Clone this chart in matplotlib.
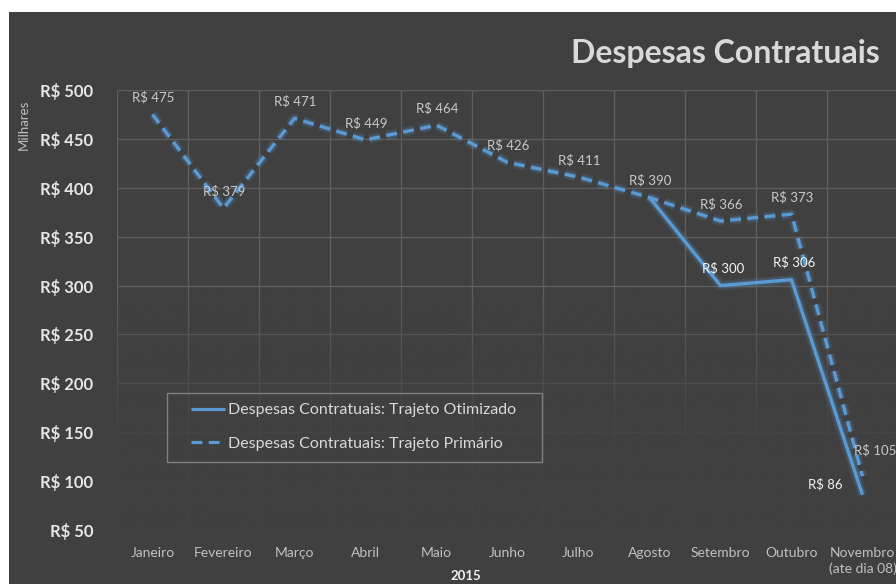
import numpy as np
import matplotlib
matplotlib.use("Agg")
import matplotlib.pyplot as plt
import matplotlib.patheffects as pe
from matplotlib.patches import Rectangle

# ---- data ----
months = ["Janeiro", "Fevereiro", "Março", "Abril", "Maio", "Junho", "Julho",
          "Agosto", "Setembro", "Outubro", "Novembro\n(ate dia 08)"]
primario = [475, 379, 471, 449, 464, 426, 411, 390, 366, 373, 105]
otimizado = [np.nan, np.nan, np.nan, np.nan, np.nan, np.nan, np.nan, 390, 300, 306, 86]
yticks = [50, 100, 150, 200, 250, 300, 350, 400, 450, 500]
ytick_labels = ["R$ 50", "R$ 100", "R$ 150", "R$ 200", "R$ 250", "R$ 300",
                "R$ 350", "R$ 400", "R$ 450", "R$ 500"]
title = "Despesas Contratuais"
name_opt = "Despesas Contratuais: Trajeto Otimizado"
name_pri = "Despesas Contratuais: Trajeto Primário"

BG = "#404040"
BLUE = "#5b9bd5"
plt.rcParams["font.family"] = ["Lato", "DejaVu Sans"]

W, H = 896, 584
fig = plt.figure(figsize=(W / 100, H / 100), dpi=100, facecolor="white")
fig.patches.append(Rectangle((9 / W, 0), 1, (H - 12) / H, transform=fig.transFigure,
                             facecolor=BG, edgecolor="none", zorder=-10))

left, right, top, bottom = 117, 898, 90, 530
ax = fig.add_axes([left / W, 1 - bottom / H, (right - left) / W, (bottom - top) / H])
ax.set_facecolor("none")
x = np.arange(len(months))

# grid
ax.set_xticks(x - 0.5, minor=True)
ax.grid(True, which="minor", axis="x", color="#5e5e5e", lw=1, zorder=0.5)
ax.set_yticks(yticks)
ax.grid(True, which="major", axis="y", color="#5e5e5e", lw=1, zorder=0.5)
ax.set_axisbelow(True)
for s in ax.spines.values():
    s.set_visible(False)

# fade-out overlay for gridlines towards the bottom
n = 200
rgba = np.zeros((n, 1, 4))
rgba[..., :3] = matplotlib.colors.to_rgb(BG)
frac_from_top = np.linspace(0, 1, n)
rgba[:, 0, 3] = np.clip((frac_from_top - 0.45) / 0.35, 0, 1) * 0.92
ax.imshow(rgba, extent=[0, 1, 0, 1], transform=ax.transAxes, aspect="auto",
          zorder=1, interpolation="bilinear")
ax.set_xlim(-0.5, len(months) - 0.5)
ax.set_ylim(50, 500)

glow = [pe.Stroke(linewidth=7, foreground=BLUE, alpha=0.12),
        pe.Stroke(linewidth=4.5, foreground=BLUE, alpha=0.2), pe.Normal()]
l1, = ax.plot(x, otimizado, color=BLUE, lw=2.3, solid_capstyle="butt", zorder=3,
              label=name_opt)
l1.set_path_effects(glow)
l2, = ax.plot(x, primario, color=BLUE, lw=2.3, dashes=(3.4, 2.0), zorder=3,
              label=name_pri)
l2.set_path_effects(glow)

# labels
lab_font = dict(fontsize=9.5, zorder=5)
for i, v in enumerate(primario):
    if i == len(primario) - 1:
        ax.annotate(f"R$ {v}", (i, v), xytext=(-9, 26), textcoords="offset pixels",
                    ha="left", va="center", color="#c8c8c8", **lab_font)
    else:
        ax.annotate(f"R$ {v}", (i, v), xytext=(1, 17), textcoords="offset pixels",
                    ha="center", va="center", color="#c8c8c8", **lab_font)
for i, v in enumerate(otimizado):
    if np.isnan(v) or i == 7:
        continue
    if i == len(otimizado) - 1:
        ax.annotate(f"R$ {v:g}", (i, v), xytext=(-20, 11), textcoords="offset pixels",
                    ha="right", va="center", color="#f2f2f2", **lab_font)
    else:
        ax.annotate(f"R$ {v:g}", (i, v), xytext=(3, 17), textcoords="offset pixels",
                    ha="center", va="center", color="#f2f2f2", **lab_font)

# ticks
ax.set_xticks(x)
ax.set_xticklabels(months, color="#c0c0c0", fontsize=10, linespacing=1.4, va="top")
ax.tick_params(axis="x", which="both", length=0, pad=12)
ax.set_yticklabels(ytick_labels, color="#e6e6e6", fontsize=12, fontweight="bold")
ax.tick_params(axis="y", which="both", length=0, pad=17)

fig.text(24 / W, 1 - 125 / H, "Milhares", rotation=90, ha="center", va="center",
         color="#bfbfbf", fontsize=9.5)
fig.text(466 / W, 1 - 576 / H, "2015", ha="center", va="center", color="#f2f2f2",
         fontsize=9.5, fontweight="bold")
fig.text(880 / W, 1 - 53 / H, title, ha="right", va="center", color="#d9d9d9",
         fontsize=23, fontweight="bold")

# legend (frame drawn separately)
fig.patches.append(Rectangle((167 / W, 1 - 462 / H), (542 - 167) / W, (462 - 393) / H,
                             transform=fig.transFigure, facecolor="none",
                             edgecolor="#808080", lw=1, zorder=6))
leg = ax.legend(handles=[l1, l2], loc="upper left",
                bbox_to_anchor=((191 - left) / (right - left), 1 - (403 - top) / (bottom - top)),
                frameon=False, labelcolor="#d9d9d9", fontsize=11.5, handlelength=2.1,
                handletextpad=0.2, borderpad=0, labelspacing=1.2, borderaxespad=0)
leg.set_zorder(6)
for h in leg.legend_handles:
    h.set_path_effects([])

fig.savefig("out.png", dpi=100, facecolor="white")
